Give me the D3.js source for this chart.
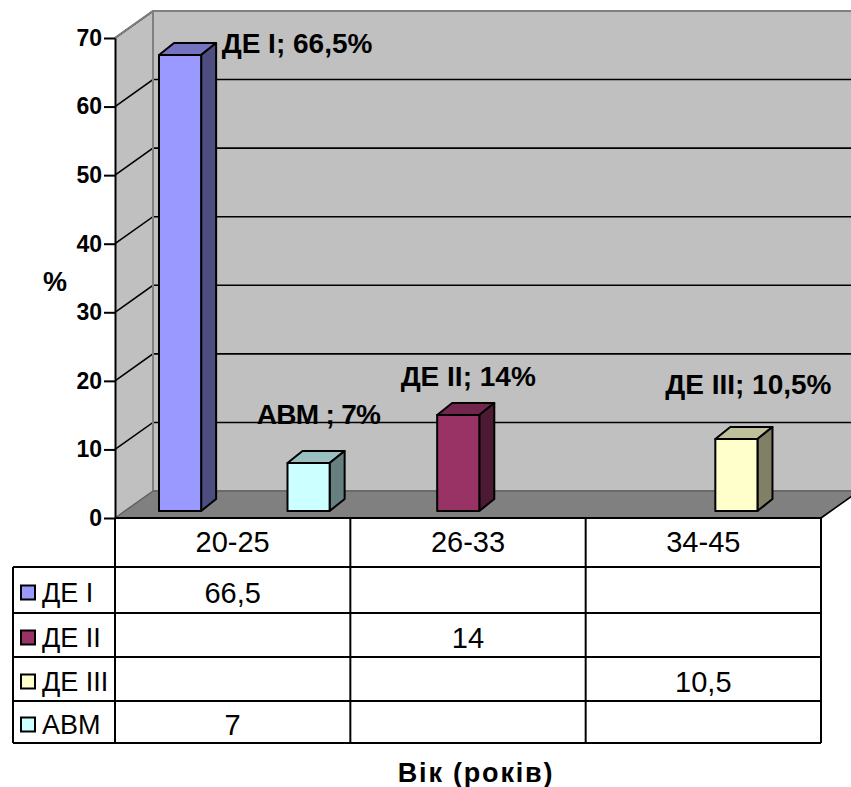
<!DOCTYPE html>
<html>
<head>
<meta charset="utf-8">
<script src="https://cdnjs.cloudflare.com/ajax/libs/d3/7.9.0/d3.min.js"></script>
<style>
html,body{margin:0;padding:0;background:#fff;overflow:hidden}
svg{display:block;font-family:"Liberation Sans",Arial,sans-serif}
</style>
</head>
<body>
<svg id="chart" width="851" height="787"></svg>
<script>
const ageGroups = ["20-25", "26-33", "34-45"];
const seriesNames = ["ДЕ I", "ДЕ II", "ДЕ III", "АВМ"];
const seriesColors = ["#9999FF", "#993366", "#FFFFCC", "#CCFFFF"];
const de1Values = [66.5, null, null];
const de2Values = [null, 14, null];
const de3Values = [null, null, 10.5];
const avmValues = [7, null, null];
const seriesValues = [de1Values, de2Values, de3Values, avmValues];
const barLabels = ["ДЕ I; 66,5%", "ДЕ II; 14%", "ДЕ III; 10,5%", "АВМ ; 7%"];
const yTicks = [0, 10, 20, 30, 40, 50, 60, 70];

const svg = d3.select("#chart");

// Projection of the 3D box: front plane plus an oblique depth vector
const plot = {left: 115, right: 821, top: 38, bottom: 518};
const depth = {x: 38, y: -27};
const barDepth = {x: 15, y: -12};
const barInset = {x: 12, y: -7};
const labelNudge = [{x: 117, y: -2}, {x: 10, y: -29}, {x: 12, y: -45}, {x: 10, y: -39}];
const labelSpacing = [0, 0, 0, -0.7];

const y = d3.scaleLinear().domain([0, 70]).range([plot.bottom, plot.top]);
const x = d3.scaleBand().domain(ageGroups).range([plot.left, plot.right]);
const slotInset = 32;
const slot = d3.scaleBand().domain(seriesNames)
  .range([slotInset, x.bandwidth() - slotInset]);

const poly = pts => pts.map(p => p.join(",")).join(" ");
const backLeft = plot.left + depth.x;
const backRight = plot.right + depth.x;
const backTop = plot.top + depth.y;
const backBottom = plot.bottom + depth.y;

// Walls and floor
svg.append("polygon").attr("fill", "#C0C0C0").attr("points", poly([
  [backLeft, backTop], [backRight, backTop], [backRight, backBottom], [backLeft, backBottom]
]));
svg.append("polygon").attr("fill", "#C0C0C0").attr("points", poly([
  [plot.left, plot.top], [backLeft, backTop], [backLeft, backBottom], [plot.left, plot.bottom]
]));
svg.append("polygon").attr("fill", "#808080").attr("points", poly([
  [plot.left, plot.bottom], [backLeft, backBottom], [backRight, backBottom], [plot.right, plot.bottom]
]));

// Gridlines run along the side wall and across the back wall
const grid = svg.append("g").attr("stroke", "#000").attr("stroke-width", 1.6).attr("fill", "none");
yTicks.filter(t => t > 0).forEach(t => {
  grid.append("polyline").attr("points", poly([
    [plot.left, y(t)], [backLeft, y(t) + depth.y], [backRight, y(t) + depth.y]
  ]));
});

// Grey box edges
svg.append("polyline").attr("fill", "none").attr("stroke", "#808080").attr("stroke-width", 2)
  .attr("points", poly([
    [plot.left, plot.top], [backLeft, backTop], [backRight, backTop]
  ]));
svg.append("line").attr("stroke", "#808080").attr("stroke-width", 2)
  .attr("x1", backLeft).attr("x2", backLeft).attr("y1", backTop).attr("y2", backBottom);
svg.append("line").attr("stroke", "#6a6a6a").attr("stroke-width", 2)
  .attr("x1", backLeft).attr("x2", backRight).attr("y1", backBottom).attr("y2", backBottom);
svg.append("line").attr("stroke", "#606060").attr("stroke-width", 1.5)
  .attr("x1", plot.left).attr("x2", backLeft).attr("y1", plot.bottom).attr("y2", backBottom);
svg.append("line").attr("stroke", "#000").attr("stroke-width", 1.6)
  .attr("x1", plot.right).attr("x2", backRight).attr("y1", plot.bottom).attr("y2", backBottom);

// Bars: front, top and side faces
const shade = (c, k) => { const r = d3.rgb(c); return d3.rgb(r.r * k, r.g * k, r.b * k).formatHex(); };
const baseline = y(0) + barInset.y;
const bars = svg.append("g").attr("stroke", "#000").attr("stroke-width", 2).attr("stroke-linejoin", "round");
seriesNames.forEach((name, s) => {
  seriesValues[s].forEach((v, c) => {
    if (v === null) return;
    const x0 = x(ageGroups[c]) + slot(name) + barInset.x;
    const x1 = x0 + slot.bandwidth() - 0.7;
    const top = y(v) + barInset.y;
    bars.append("polygon").attr("fill", shade(seriesColors[s], 0.75)).attr("points", poly([
      [x0, top], [x0 + barDepth.x, top + barDepth.y], [x1 + barDepth.x, top + barDepth.y], [x1, top]
    ]));
    bars.append("polygon").attr("fill", shade(seriesColors[s], 0.5)).attr("points", poly([
      [x1, top], [x1 + barDepth.x, top + barDepth.y], [x1 + barDepth.x, baseline + barDepth.y], [x1, baseline]
    ]));
    bars.append("rect").attr("fill", seriesColors[s])
      .attr("x", x0).attr("y", top).attr("width", x1 - x0).attr("height", baseline - top);
    svg.append("text")
      .attr("x", (x0 + x1) / 2 + labelNudge[s].x)
      .attr("y", top + labelNudge[s].y)
      .attr("text-anchor", "middle")
      .attr("font-size", 28).attr("font-weight", "bold").attr("fill", "#000")
      .attr("letter-spacing", labelSpacing[s])
      .text(barLabels[s]);
  });
});

// Value axis
const yAxis = svg.append("g").attr("transform", `translate(${plot.left},0)`)
  .call(d3.axisLeft(y).tickValues(yTicks).tickSize(11).tickPadding(2).tickSizeOuter(0));
yAxis.select(".domain").attr("stroke", "#000").attr("stroke-width", 2);
yAxis.selectAll(".tick line").attr("stroke", "#000").attr("stroke-width", 2);
yAxis.selectAll(".tick text").attr("font-size", 23).attr("font-weight", "bold")
  .attr("font-family", '"Liberation Sans",Arial,sans-serif').attr("fill", "#000");

// Data table beneath the plot
const tableRows = [518, 567, 613, 657, 701, 743];
const tableLeft = 13;
const table = svg.append("g").attr("stroke", "#000").attr("stroke-width", 2);
tableRows.forEach((ry, i) => {
  table.append("line").attr("x1", i === 0 ? plot.left : tableLeft).attr("x2", plot.right)
    .attr("y1", ry).attr("y2", ry);
});
[plot.left, ...ageGroups.map(g => x(g) + x.bandwidth())].forEach(tx => {
  table.append("line").attr("x1", tx).attr("x2", tx).attr("y1", plot.bottom).attr("y2", tableRows[5]);
});
table.append("line").attr("x1", tableLeft).attr("x2", tableLeft)
  .attr("y1", tableRows[1]).attr("y2", tableRows[5]);

const cellMid = i => (tableRows[i] + tableRows[i + 1]) / 2;
const cellText = (tx, ty, t, anchor, size) => svg.append("text")
  .attr("x", tx).attr("y", ty).attr("dy", "0.35em")
  .attr("text-anchor", anchor).attr("font-size", size).attr("fill", "#000").text(t);

ageGroups.forEach(g => cellText(x(g) + x.bandwidth() / 2, cellMid(0) - 1, g, "middle", 29));
seriesNames.forEach((name, s) => {
  const my = cellMid(s + 1) + 2.5;
  svg.append("rect").attr("x", 21).attr("y", my - 7).attr("width", 14).attr("height", 14)
    .attr("fill", seriesColors[s]).attr("stroke", "#000").attr("stroke-width", 2);
  cellText(42, my, name, "start", 27);
  seriesValues[s].forEach((v, c) => {
    if (v === null) return;
    cellText(x(ageGroups[c]) + x.bandwidth() / 2, my, String(v).replace(".", ","), "middle", 29);
  });
});

// Axis titles
svg.append("text").attr("x", 55).attr("y", 291).attr("text-anchor", "middle")
  .attr("font-size", 27).attr("font-weight", "bold").attr("fill", "#000").text("%");
svg.append("text").attr("x", 476).attr("y", 782).attr("text-anchor", "middle")
  .attr("font-size", 27).attr("font-weight", "bold").attr("letter-spacing", 1.8).attr("fill", "#000").text("Вік (років)");
</script>
</body>
</html>
